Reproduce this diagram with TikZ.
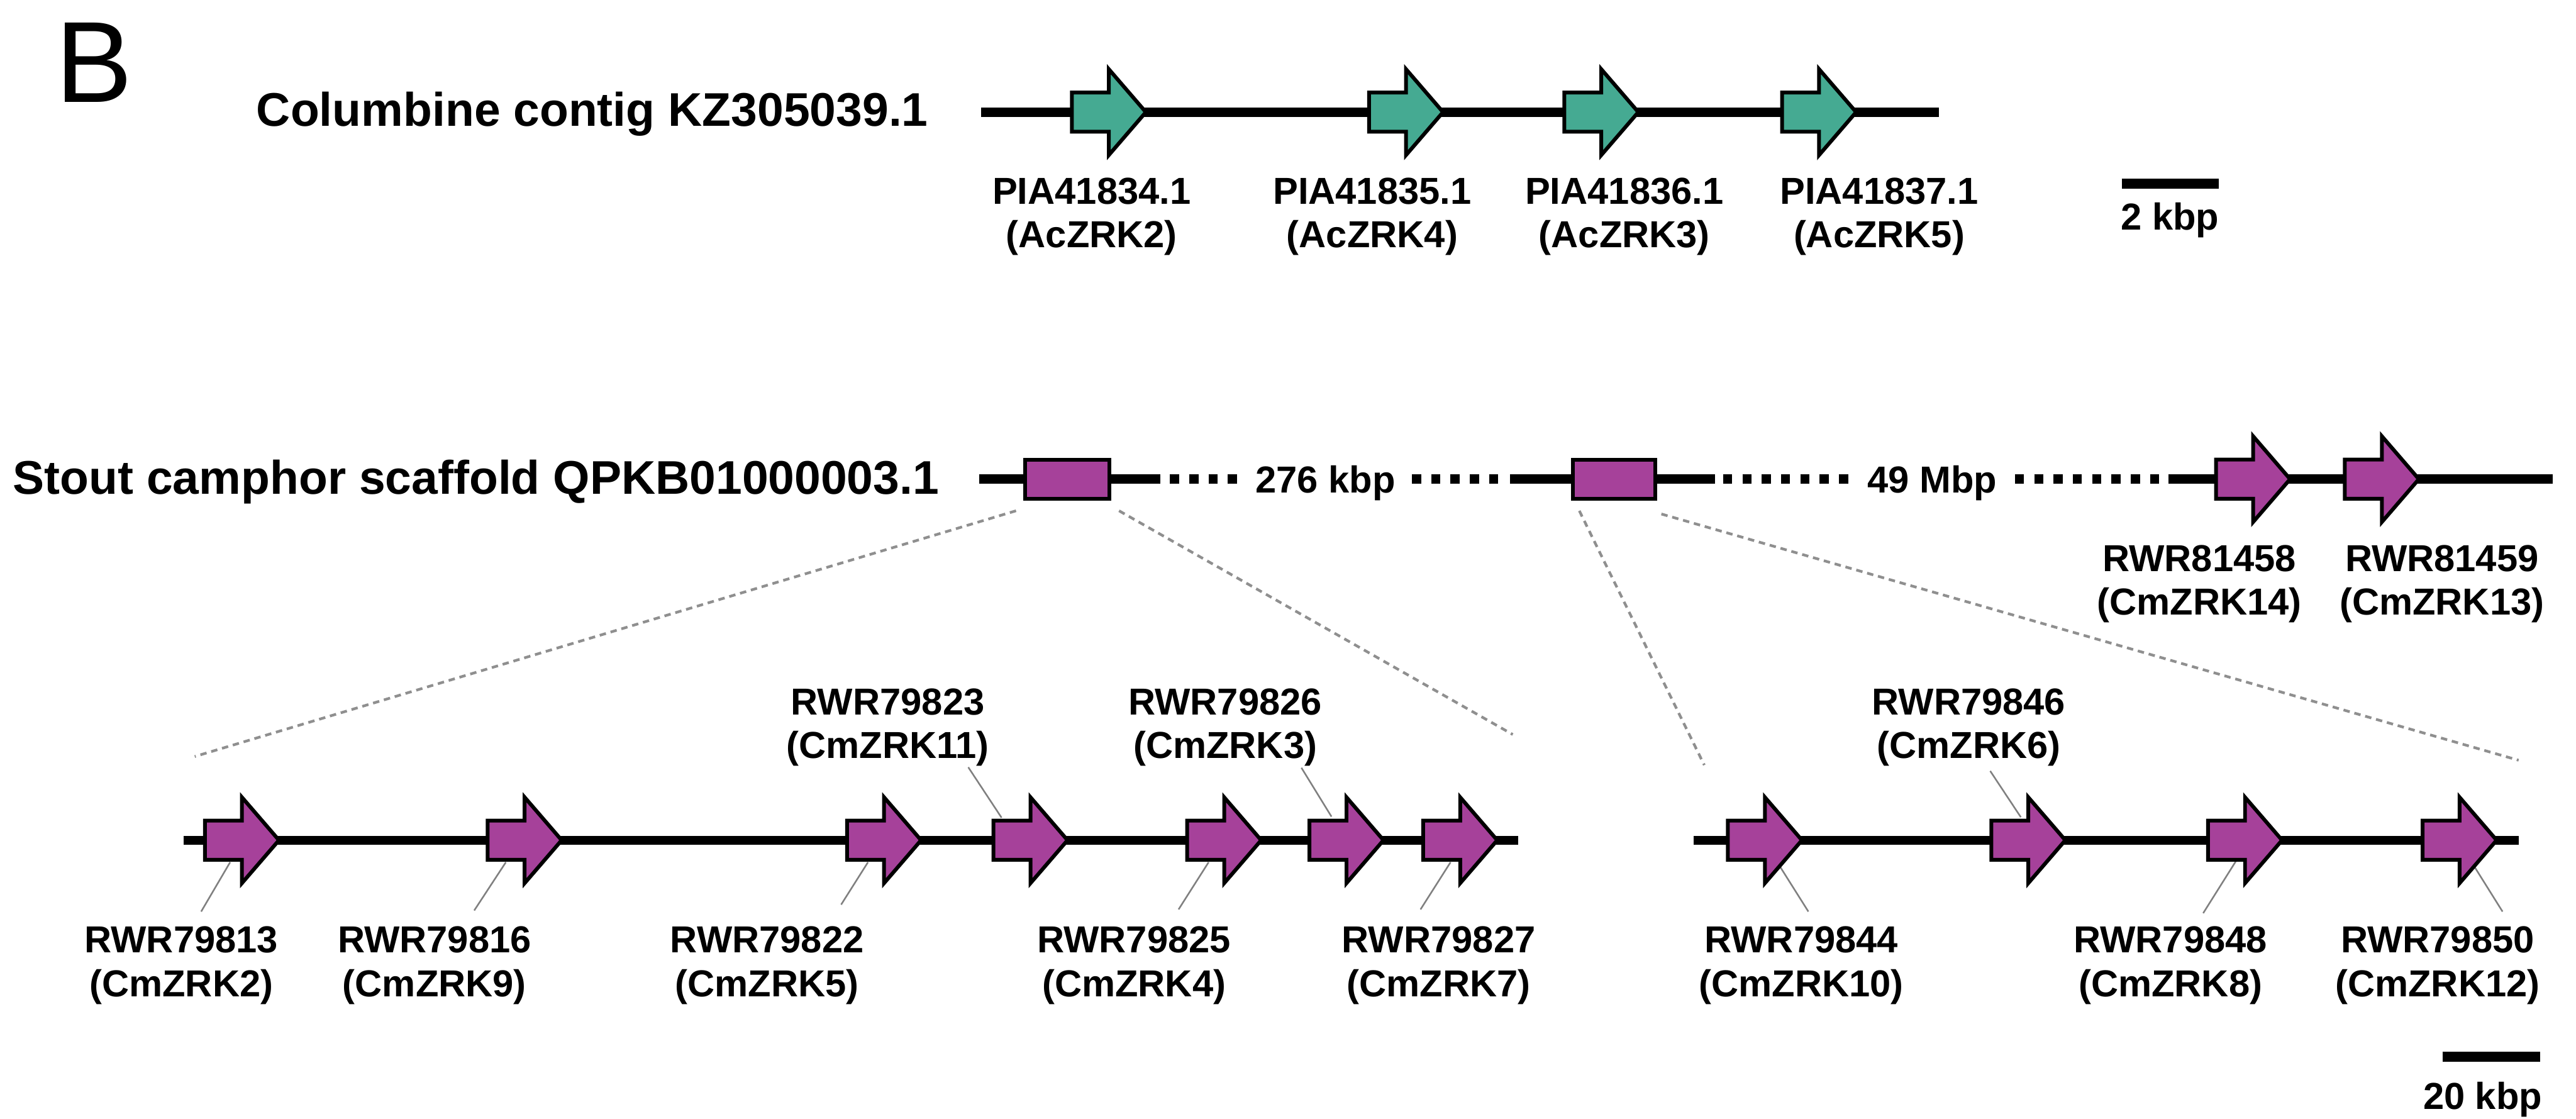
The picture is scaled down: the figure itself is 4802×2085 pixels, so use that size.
\documentclass[tikz,border=0pt]{standalone}
\usepackage{fontspec}
\setmainfont{Liberation Sans}
\definecolor{genegreen}{HTML}{45AA92}
\definecolor{genepurple}{HTML}{A6419A}
\definecolor{zoomgray}{HTML}{8F8F8F}
\definecolor{leadgray}{HTML}{808080}
\newcommand\drawgene[4]{%
  \coordinate (#1) at (#2,#3);
  \filldraw[genebox,fill=#4] (#1) ++(0,-36.5) -- ++(69,0) -- ++(0,-43.5) -- ++(69,80)
    -- ++(-69,80) -- ++(0,-43.5) -- ++(-69,0) -- cycle;}
\newcommand\genelabel[5]{%
  \node[lbl] (#1) at (#2,#3) {#4};
  \node[lbl] (#1b) at (#2,#3+81) {#5};}
\begin{document}
\begin{tikzpicture}[x=1pt,y=-1pt,
  chrom/.style={line width=17pt, line cap=butt},
  gapline/.style={line width=17pt, line cap=butt, dash pattern=on 17pt off 19pt},
  genebox/.style={draw=black, line width=7pt, line join=miter},
  zoomline/.style={draw=zoomgray, line width=5pt, dash pattern=on 12pt off 9pt},
  leader/.style={draw=leadgray, line width=3pt},
  lbl/.style={inner sep=0pt, font=\fontsize{70}{80}\selectfont\bfseries, anchor=base},
  titlelbl/.style={inner sep=0pt, font=\fontsize{88}{100}\selectfont\bfseries, anchor=base west},
  scalebar/.style={line width=19pt, line cap=butt},
]
\useasboundingbox (0,0) rectangle (4802,2085);

% panel letter
\node[inner sep=0pt, anchor=base west, font=\fontsize{215}{240}\selectfont] (panel) at (103,191) {B};

% ---------- Columbine ----------
\node[titlelbl] (t1) at (478,235) {Columbine contig KZ305039.1};
\coordinate (c1a) at (1829,209);
\coordinate (c1b) at (3614,209);
\draw[chrom] (c1a) -- (c1b);
\drawgene{ac2}{1998}{209}{genegreen}
\drawgene{ac4}{2552}{209}{genegreen}
\drawgene{ac3}{2916}{209}{genegreen}
\drawgene{ac5}{3322}{209}{genegreen}
\genelabel{lac2}{2035}{380}{PIA41834.1}{(AcZRK2)}
\genelabel{lac4}{2558}{380}{PIA41835.1}{(AcZRK4)}
\genelabel{lac3}{3028}{380}{PIA41836.1}{(AcZRK3)}
\genelabel{lac5}{3503}{380}{PIA41837.1}{(AcZRK5)}
% scale bar 2 kbp
\coordinate (sb1a) at (3955,342);
\coordinate (sb1b) at (4136,342);
\draw[scalebar] (sb1a) -- (sb1b);
\node[lbl] (sb1t) at (4045,428) {2 kbp};

% ---------- Stout camphor ----------
\node[titlelbl] (t2) at (24,921) {Stout camphor scaffold QPKB01000003.1};
\coordinate (m0) at (1825,893);
\coordinate (m1) at (2163,893);
\coordinate (m2) at (2181,893);
\coordinate (m3) at (2306,893);
\coordinate (m4) at (2632,893);
\coordinate (m5) at (2793,893);
\coordinate (m6) at (2815,893);
\coordinate (m7) at (3197,893);
\coordinate (m8) at (3212,893);
\coordinate (m9) at (3445,893);
\coordinate (m10) at (3756,893);
\coordinate (m11) at (4025,893);
\coordinate (m12) at (4042,893);
\coordinate (m13) at (4759,893);
\draw[chrom] (m0) -- (m1);
\draw[gapline] (m2) -- (m3);
\draw[gapline] (m4) -- (m5);
\draw[chrom] (m6) -- (m7);
\draw[gapline] (m8) -- (m9);
\draw[gapline] (m10) -- (m11);
\draw[chrom] (m12) -- (m13);
\node[lbl] (gap1) at (2471,918) {276 kbp};
\node[lbl] (gap2) at (3602,918) {49 Mbp};
\node[genebox, fill=genepurple, minimum width=157pt, minimum height=73pt, inner sep=0pt] (box1) at (1989.5,893) {};
\node[genebox, fill=genepurple, minimum width=154pt, minimum height=73pt, inner sep=0pt] (box2) at (3009,893) {};
\drawgene{cm14}{4131}{893}{genepurple}
\drawgene{cm13}{4371}{893}{genepurple}
\genelabel{lcm14}{4100}{1065}{RWR81458}{(CmZRK14)}
\genelabel{lcm13}{4552}{1065}{RWR81459}{(CmZRK13)}

% zoom guide lines
\coordinate (z1a) at (1894,952);
\coordinate (z1b) at (363,1410);
\coordinate (z2a) at (2086,952);
\coordinate (z2b) at (2820,1369);
\coordinate (z3a) at (2944,952);
\coordinate (z3b) at (3177,1426);
\coordinate (z4a) at (3097,958);
\coordinate (z4b) at (4695,1417);
\draw[zoomline] (z1a) -- (z1b);
\draw[zoomline] (z2a) -- (z2b);
\draw[zoomline] (z3a) -- (z3b);
\draw[zoomline] (z4a) -- (z4b);

% ---------- bottom left cluster ----------
\coordinate (b1a) at (342,1566);
\coordinate (b1b) at (2830,1566);
\draw[chrom] (b1a) -- (b1b);
% leaders (drawn before genes)
\coordinate (ld1g) at (429,1607);   \coordinate (ld1t) at (375,1699);
\coordinate (ld2g) at (943,1607);   \coordinate (ld2t) at (884,1697);
\coordinate (ld3g) at (1618,1607);  \coordinate (ld3t) at (1568,1686);
\coordinate (ld4g) at (1867,1524);  \coordinate (ld4t) at (1805,1430);
\coordinate (ld5g) at (2253,1607);  \coordinate (ld5t) at (2197,1695);
\coordinate (ld6g) at (2482,1522);  \coordinate (ld6t) at (2426,1431);
\coordinate (ld7g) at (2704,1607);  \coordinate (ld7t) at (2648,1695);
\foreach \i in {1,...,7} {\draw[leader] (ld\i g) -- (ld\i t);}
\drawgene{cm2}{382}{1566}{genepurple}
\drawgene{cm9}{909}{1566}{genepurple}
\drawgene{cm5}{1579}{1566}{genepurple}
\drawgene{cm11}{1852}{1566}{genepurple}
\drawgene{cm4}{2213}{1566}{genepurple}
\drawgene{cm3}{2441}{1566}{genepurple}
\drawgene{cm7}{2653}{1566}{genepurple}
\genelabel{lcm2}{338}{1776}{RWR79813}{(CmZRK2)}
\genelabel{lcm9}{810}{1776}{RWR79816}{(CmZRK9)}
\genelabel{lcm5}{1430}{1776}{RWR79822}{(CmZRK5)}
\genelabel{lcm4}{2114}{1776}{RWR79825}{(CmZRK4)}
\genelabel{lcm7}{2682}{1776}{RWR79827}{(CmZRK7)}
\genelabel{lcm11}{1655}{1332}{RWR79823}{(CmZRK11)}
\genelabel{lcm3}{2284}{1332}{RWR79826}{(CmZRK3)}

% ---------- bottom right cluster ----------
\coordinate (b2a) at (3157,1566);
\coordinate (b2b) at (4695,1566);
\draw[chrom] (b2a) -- (b2b);
\coordinate (le1g) at (3318,1615);  \coordinate (le1t) at (3371,1699);
\coordinate (le2g) at (3767,1523);  \coordinate (le2t) at (3710,1437);
\coordinate (le3g) at (4168,1605);  \coordinate (le3t) at (4107,1702);
\coordinate (le4g) at (4613,1616);  \coordinate (le4t) at (4665,1699);
\foreach \i in {1,...,4} {\draw[leader] (le\i g) -- (le\i t);}
\drawgene{cm10}{3221}{1566}{genepurple}
\drawgene{cm6}{3712}{1566}{genepurple}
\drawgene{cm8}{4116}{1566}{genepurple}
\drawgene{cm12}{4516}{1566}{genepurple}
\genelabel{lcm10}{3358}{1776}{RWR79844}{(CmZRK10)}
\genelabel{lcm8}{4046}{1776}{RWR79848}{(CmZRK8)}
\genelabel{lcm12}{4544}{1776}{RWR79850}{(CmZRK12)}
\genelabel{lcm6}{3670}{1332}{RWR79846}{(CmZRK6)}

% scale bar 20 kbp
\coordinate (sb2a) at (4553,1970);
\coordinate (sb2b) at (4735,1970);
\draw[scalebar] (sb2a) -- (sb2b);
\node[lbl] (sb2t) at (4628,2067) {20 kbp};
\end{tikzpicture}
\end{document}
